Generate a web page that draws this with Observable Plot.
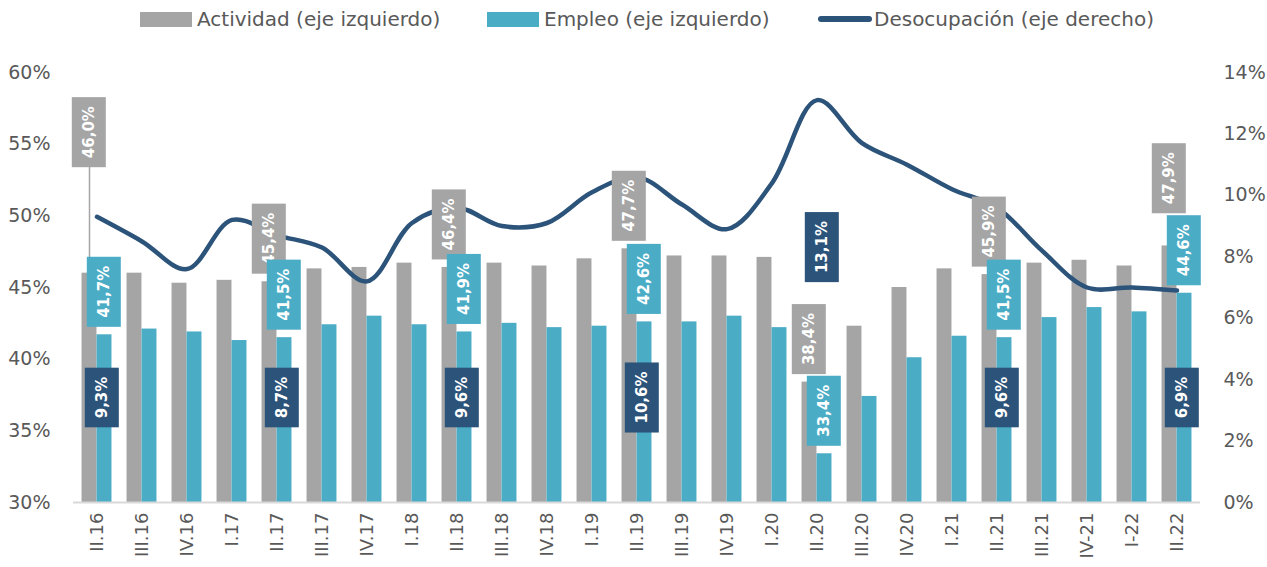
<!DOCTYPE html>
<html><head><meta charset="utf-8">
<script src="https://cdn.jsdelivr.net/npm/d3@7"></script>
<script src="https://cdn.jsdelivr.net/npm/@observablehq/plot@0.6"></script>
<style>
body{margin:0;background:#fff;font-family:"DejaVu Sans",sans-serif;}
#legend{position:relative;height:40px;color:#595959;font-size:20px;}
.item{position:absolute;top:0;height:38px;display:flex;align-items:center;white-space:nowrap;}
.sw{width:52px;height:15px;margin-right:5px;}
.ln{width:54px;height:6px;border-radius:3px;margin-right:2px;}
</style></head><body>
<div id="legend"></div><div id="chart"></div>
<script>
const quarters = ["II.16","III.16","IV.16","I.17","II.17","III.17","IV.17","I.18","II.18","III.18","IV.18","I.19","II.19","III.19","IV.19","I.20","II.20","III.20","IV.20","I.21","II.21","III.21","IV-21","I-22","II.22"];
const actividad = [46.0,46.0,45.3,45.5,45.4,46.3,46.4,46.7,46.4,46.7,46.5,47.0,47.7,47.2,47.2,47.1,38.4,42.3,45.0,46.3,45.9,46.7,46.9,46.5,47.9];
const empleo = [41.7,42.1,41.9,41.3,41.5,42.4,43.0,42.4,41.9,42.5,42.2,42.3,42.6,42.6,43.0,42.2,33.4,37.4,40.1,41.6,41.5,42.9,43.6,43.3,44.6];
const desocupacion = [9.3,8.5,7.6,9.2,8.7,8.3,7.2,9.1,9.6,9.0,9.1,10.1,10.6,9.7,8.9,10.4,13.1,11.7,11.0,10.2,9.6,8.2,7.0,7.0,6.9];
const leftTicks = [30,35,40,45,50,55,60];
const rightTicks = [0,2,4,6,8,10,12,14];
const labeled = ["II.16","II.17","II.18","II.19","II.20","II.21","II.22"];
const seriesNames = ["Actividad (eje izquierdo)","Empleo (eje izquierdo)","Desocupación (eje derecho)"];

const cGrey = "#a5a5a5", cTeal = "#4bacc6", cDark = "#2c5379";

// legend
const legend = document.getElementById("legend");
[[140,"sw",cGrey],[487,"sw",cTeal],[818,"ln",cDark]].forEach(([left,cls,col],i)=>{
  const it = document.createElement("div"); it.className="item"; it.style.left = left+"px";
  const s = document.createElement("div"); s.className=cls; s.style.background=col;
  const t = document.createElement("span"); t.textContent = seriesNames[i];
  it.append(s,t); legend.append(it);
});

const W = 1267, H = 527, mt = 32, mb = 65, ml = 73, mr = 67;
const k = (H - mt - mb) / 30;            // px per left-axis unit
const bw = (W - ml - mr) / quarters.length;
const toLeft = u => 30 + u * 30 / 14;
const fmt = v => v.toFixed(1).replace(".", ",") + "%";

const rows = quarters.map((q,i)=>({q, act: actividad[i], emp: empleo[i], des: desocupacion[i]}));
// label lift (px) for labels dragged away in the original
const nudge = {"II.16": 98, "II.22": 16};
const darkLevel = 30 + 105 / k;
const lab = rows.filter(d => labeled.includes(d.q)).map(d => {
  const gyRule = Math.max(d.act + 43/k, d.emp + 99/k);
  const gy = gyRule + (nudge[d.q] || 0) / k;
  const ty = d.emp + 43/k;
  const dy = Math.abs(ty - darkLevel) < 70/k ? gyRule + 92/k : darkLevel;
  return {...d, gy, ty, dy, nudged: (nudge[d.q] || 0) > 40};
});

const labelFont = {rotate: -90, fill: "white", fontWeight: "bold", fontSize: 15, fontFamily: "DejaVu Sans", textAnchor: "middle", lineAnchor: "middle"};

const svg = Plot.plot({
  width: W, height: H, marginTop: mt, marginBottom: mb, marginLeft: ml, marginRight: mr,
  style: {fontFamily: "DejaVu Sans", color: "#595959", background: "white"},
  x: {type: "band", domain: quarters, padding: 0},
  y: {domain: [30, 60]},
  marks: [
    Plot.barY(rows, {x: "q", y1: 30, y2: "act", fill: cGrey, insetLeft: bw/2 - 15, insetRight: bw/2}),
    Plot.barY(rows, {x: "q", y1: 30, y2: "emp", fill: cTeal, insetLeft: bw/2, insetRight: bw/2 - 15}),
    Plot.ruleY([30], {stroke: "#d9d9d9", strokeWidth: 2}),
    Plot.line(rows, {x: "q", y: d => toLeft(d.des), curve: "catmull-rom", stroke: cDark, strokeWidth: 4.5, strokeLinecap: "round", strokeLinejoin: "round"}),
    Plot.ruleX(lab.filter(d => d.nudged), {x: "q", y1: "act", y2: d => d.gy - 35/k, dx: -7.5, stroke: "#a5a5a5", strokeWidth: 1.5}),
    Plot.text(lab, {x: "q", y: "gy", text: d => fmt(d.act), dx: -8, ...labelFont}),
    Plot.text(lab, {x: "q", y: "ty", text: d => fmt(d.emp), dx: 7, ...labelFont}),
    Plot.text(lab, {x: "q", y: "dy", text: d => fmt(d.des), dx: 5, ...labelFont}),
    Plot.axisY({anchor: "left", ticks: leftTicks, tickFormat: d => d + "%", tickSize: 0, tickPadding: 23, fontSize: 19, label: null}),
    Plot.axisY({anchor: "right", ticks: rightTicks.map(toLeft), tickFormat: d => Math.round((d - 30) * 14 / 30) + "%", tickSize: 0, tickPadding: 23, fontSize: 19, label: null}),
    Plot.axisX({tickRotate: -90, tickSize: 0, tickPadding: 10, fontSize: 18, label: null})
  ]
});
document.getElementById("chart").append(svg);

const boxColors = [cGrey, cTeal, cDark];
const textGroups = svg.querySelectorAll('g[aria-label="text"]');
textGroups.forEach((g, gi) => {
  const color = boxColors[gi] || cDark;
  g.querySelectorAll("text").forEach(t => {
    const b = t.getBBox();
    const r = document.createElementNS("http://www.w3.org/2000/svg", "rect");
    r.setAttribute("x", b.x - 9);
    r.setAttribute("y", b.y - 8);
    r.setAttribute("width", b.width + 18);
    r.setAttribute("height", b.height + 16);
    if (t.getAttribute("transform")) r.setAttribute("transform", t.getAttribute("transform"));
    r.setAttribute("fill", color);
    r.setAttribute("stroke", "none");
    t.parentNode.insertBefore(r, t);
  });
});
</script>
</body></html>
